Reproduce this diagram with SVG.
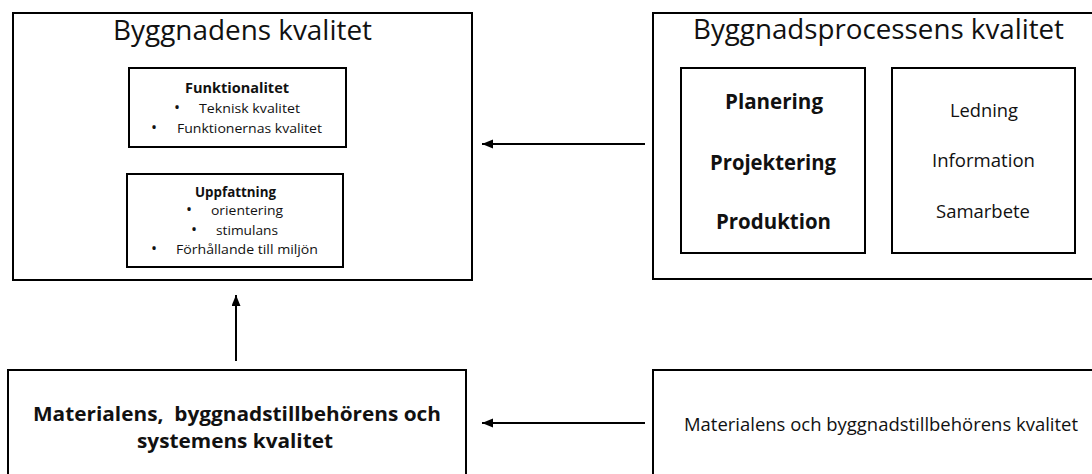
<svg xmlns="http://www.w3.org/2000/svg" width="1092" height="474" viewBox="0 0 1092 474">
<style>
.box{fill:#fff;stroke:#000;stroke-width:2}
.ibox{fill:none;stroke:#000;stroke-width:2}
text{font-family:"Open Sans","Noto Sans","DejaVu Sans",sans-serif;fill:#111}
.title{font-size:27px}
.small{font-size:13.5px}
.sb{font-size:13.5px;font-weight:bold}
.big{font-size:22px;font-weight:bold}
.mid{font-size:19px}
.bl{font-size:19.5px;font-weight:bold}
.br{font-size:18px}
.bul{font-size:16px;text-anchor:middle}
.conn{stroke:#000;stroke-width:2;fill:none}
</style>
<defs>
<marker id="ah" markerUnits="userSpaceOnUse" markerWidth="12" markerHeight="10" refX="11" refY="4.5" orient="auto">
<path d="M0,0 L11,4.5 L0,9 z" fill="#000"/>
</marker>
</defs>
<rect width="1092" height="474" fill="#fff"/>

<g id="byggnadens-kvalitet">
<rect class="box" x="13" y="13" width="459" height="267"/>
<text class="title" x="113" y="40" textLength="259" lengthAdjust="spacingAndGlyphs">Byggnadens kvalitet</text>
</g>

<g id="funktionalitet">
<rect class="ibox" x="129" y="68" width="217" height="79"/>
<text class="sb" x="185" y="93" textLength="104" lengthAdjust="spacingAndGlyphs">Funktionalitet</text>
<text class="bul" x="177" y="113">•</text>
<text class="small" x="199" y="113" textLength="101" lengthAdjust="spacingAndGlyphs">Teknisk kvalitet</text>
<text class="bul" x="154" y="133">•</text>
<text class="small" x="177" y="133" textLength="145" lengthAdjust="spacingAndGlyphs">Funktionernas kvalitet</text>
</g>

<g id="uppfattning">
<rect class="ibox" x="127" y="174" width="216" height="93"/>
<text class="sb" x="195" y="197" textLength="81" lengthAdjust="spacingAndGlyphs">Uppfattning</text>
<text class="bul" x="189" y="215">•</text>
<text class="small" x="211" y="215" textLength="72" lengthAdjust="spacingAndGlyphs">orientering</text>
<text class="bul" x="194" y="235">•</text>
<text class="small" x="216" y="235" textLength="62" lengthAdjust="spacingAndGlyphs">stimulans</text>
<text class="bul" x="154" y="254">•</text>
<text class="small" x="176" y="254" textLength="142" lengthAdjust="spacingAndGlyphs">Förhållande till miljön</text>
</g>

<g id="byggnadsprocessens-kvalitet">
<rect class="box" x="653" y="13" width="460" height="266"/>
<text class="title" x="693" y="39" textLength="371" lengthAdjust="spacingAndGlyphs">Byggnadsprocessens kvalitet</text>
</g>

<g id="faser">
<rect class="ibox" x="681" y="68" width="184" height="185"/>
<text class="big" x="725" y="109" textLength="98" lengthAdjust="spacingAndGlyphs">Planering</text>
<text class="big" x="710" y="170" textLength="126" lengthAdjust="spacingAndGlyphs">Projektering</text>
<text class="big" x="716" y="229" textLength="115" lengthAdjust="spacingAndGlyphs">Produktion</text>
</g>

<g id="styrning">
<rect class="ibox" x="892" y="68" width="183" height="185"/>
<text class="mid" x="950" y="117" textLength="68" lengthAdjust="spacingAndGlyphs">Ledning</text>
<text class="mid" x="932" y="167" textLength="103" lengthAdjust="spacingAndGlyphs">Information</text>
<text class="mid" x="936" y="218" textLength="94" lengthAdjust="spacingAndGlyphs">Samarbete</text>
</g>

<g id="materialens-system">
<rect class="box" x="8" y="370" width="458" height="120"/>
<text class="bl" x="33" y="421" textLength="408" lengthAdjust="spacingAndGlyphs" xml:space="preserve">Materialens,  byggnadstillbehörens och</text>
<text class="bl" x="137" y="448" textLength="196" lengthAdjust="spacingAndGlyphs">systemens kvalitet</text>
</g>

<g id="materialens-kvalitet">
<rect class="box" x="653" y="370" width="460" height="120"/>
<text class="br" x="684" y="431" textLength="394" lengthAdjust="spacingAndGlyphs">Materialens och byggnadstillbehörens kvalitet</text>
</g>

<g id="connectors">
<line class="conn" x1="645" y1="144" x2="482" y2="144" marker-end="url(#ah)"/>
<line class="conn" x1="645" y1="423" x2="482" y2="423" marker-end="url(#ah)"/>
<line class="conn" x1="236" y1="361" x2="236" y2="295" marker-end="url(#ah)"/>
</g>
</svg>
